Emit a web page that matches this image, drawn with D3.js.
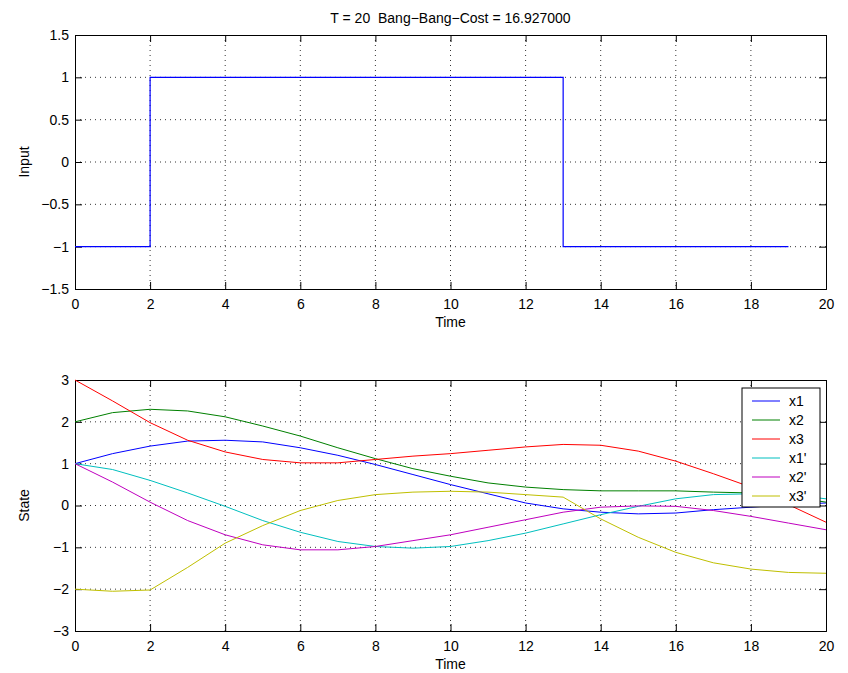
<!DOCTYPE html>
<html>
<head>
<meta charset="utf-8">
<script src="https://cdn.jsdelivr.net/npm/d3@7"></script>
<style>
  body { margin: 0; background: #fff; }
  svg { font-family: "Liberation Sans", Arial, sans-serif; }
  .grid line { stroke: #000; stroke-dasharray: 1,4; stroke-width: 0.8; }
</style>
</head>
<body>
<div id="chart"></div>
<script>
// input signal (bang-bang), step points
var inputTimes = [0, 2, 13, 19];
var inputValues = [-1, 1, -1, -1];

// state trajectories sampled at t = 0..20
var times = d3.range(0, 21);
var x1  = [1, 1.24, 1.42, 1.54, 1.56, 1.52, 1.38, 1.2, 0.98, 0.74, 0.5, 0.28, 0.06, -0.08, -0.16, -0.2, -0.18, -0.1, -0.04, 0.02, 0.06];
var x2  = [2, 2.22, 2.3, 2.26, 2.12, 1.9, 1.66, 1.38, 1.12, 0.88, 0.7, 0.54, 0.44, 0.38, 0.35, 0.35, 0.35, 0.32, 0.3, 0.22, 0.08];
var x3  = [3, 2.5, 1.98, 1.56, 1.28, 1.1, 1.02, 1.02, 1.1, 1.18, 1.24, 1.32, 1.4, 1.46, 1.44, 1.3, 1.06, 0.76, 0.44, 0.02, -0.4];
var x1p = [1, 0.86, 0.6, 0.3, -0.02, -0.36, -0.64, -0.86, -0.98, -1.02, -0.98, -0.84, -0.66, -0.44, -0.22, -0.02, 0.16, 0.26, 0.28, 0.26, 0.16];
var x2p = [1, 0.56, 0.08, -0.36, -0.7, -0.94, -1.06, -1.06, -0.98, -0.84, -0.7, -0.52, -0.34, -0.16, -0.04, -0.01, -0.02, -0.12, -0.26, -0.42, -0.58];
var x3p = [-2, -2.05, -2.02, -1.48, -0.9, -0.48, -0.12, 0.12, 0.26, 0.32, 0.34, 0.32, 0.26, 0.2, -0.32, -0.76, -1.12, -1.37, -1.52, -1.6, -1.62];

var seriesNames = ["x1", "x2", "x3", "x1'", "x2'", "x3'"];
var seriesData = [x1, x2, x3, x1p, x2p, x3p];
var seriesColors = ["#0000ff", "#008000", "#ff0000", "#00bfbf", "#bf00bf", "#bfbf00"];

var xTicks = d3.range(0, 21, 2);
var inputTicks = [-1.5, -1, -0.5, 0, 0.5, 1, 1.5];
var stateTicks = [-3, -2, -1, 0, 1, 2, 3];

var W = 848, H = 673;
var svg = d3.select("#chart").append("svg")
    .attr("width", W).attr("height", H);

var left = 75, right = 826;

function makeAxes(top, bottom, yDomain, yTicks, ylabel) {
    var x = d3.scaleLinear().domain([0, 20]).range([left, right]);
    var y = d3.scaleLinear().domain(yDomain).range([bottom, top]);
    var g = svg.append("g");

    // dotted grid
    var grid = g.append("g").attr("class", "grid");
    grid.selectAll("line.v").data(xTicks.slice(1, -1)).enter().append("line")
        .attr("x1", d => x(d)).attr("x2", d => x(d))
        .attr("y1", top).attr("y2", bottom);
    grid.selectAll("line.h").data(yTicks.slice(1, -1)).enter().append("line")
        .attr("y1", d => y(d)).attr("y2", d => y(d))
        .attr("x1", left).attr("x2", right);

    // box with inward ticks on all four sides
    var tl = 7;
    g.append("g").attr("transform", "translate(0," + bottom + ")")
        .call(d3.axisBottom(x).tickValues(xTicks).tickSize(-tl).tickPadding(10).tickFormat(d3.format("d")));
    g.append("g").attr("transform", "translate(0," + top + ")")
        .call(d3.axisTop(x).tickValues(xTicks).tickSize(-tl).tickFormat(""));
    g.append("g").attr("transform", "translate(" + left + ",0)")
        .call(d3.axisLeft(y).tickValues(yTicks).tickSize(-tl).tickPadding(6).tickFormat(d => String(d).replace("-", "\u2212")));
    g.append("g").attr("transform", "translate(" + right + ",0)")
        .call(d3.axisRight(y).tickValues(yTicks).tickSize(-tl).tickFormat(""));
    g.selectAll(".domain").attr("stroke", "#000").attr("stroke-width", 1);
    g.selectAll(".tick line").attr("stroke", "#000");
    g.selectAll(".tick text").attr("font-size", 14).attr("fill", "#000")
        .attr("font-family", "Liberation Sans, Arial, sans-serif");

    g.append("text").attr("x", (left + right) / 2).attr("y", bottom + 38)
        .attr("text-anchor", "middle").attr("font-size", 14).text("Time");
    g.append("text")
        .attr("transform", "translate(29," + (top + bottom) / 2 + ") rotate(-90)")
        .attr("text-anchor", "middle").attr("font-size", 14).text(ylabel);

    return { x: x, y: y, g: g };
}

// top: input
var a1 = makeAxes(35, 289, [-1.5, 1.5], inputTicks, "Input");
svg.append("text").attr("x", (left + right) / 2).attr("y", 23)
    .attr("text-anchor", "middle").attr("font-size", 14)
    .style("white-space", "pre")
    .text("T = 20  Bang\u2212Bang\u2212Cost = 16.927000");

var inputPts = inputTimes.map((t, i) => [t, inputValues[i]]);
svg.append("path")
    .datum(inputPts)
    .attr("fill", "none").attr("stroke", "#0000ff").attr("stroke-width", 1.2)
    .attr("d", d3.line().x(d => a1.x(d[0])).y(d => a1.y(d[1])).curve(d3.curveStepAfter));

// bottom: states
var a2 = makeAxes(380, 631, [-3, 3], stateTicks, "State");
var line2 = d3.line().x((d, i) => a2.x(times[i])).y(d => a2.y(d));
seriesData.forEach(function(s, k) {
    svg.append("path").datum(s)
        .attr("fill", "none").attr("stroke", seriesColors[k]).attr("stroke-width", 1)
        .attr("d", line2);
});

// legend
var lg = svg.append("g").attr("transform", "translate(742,388)");
lg.append("rect").attr("width", 78).attr("height", 119)
    .attr("fill", "#fff").attr("stroke", "#000");
seriesNames.forEach(function(n, k) {
    var yy = 13 + k * 19;
    lg.append("line").attr("x1", 10).attr("x2", 38).attr("y1", yy).attr("y2", yy)
        .attr("stroke", seriesColors[k]).attr("stroke-width", 1);
    lg.append("text").attr("x", 47).attr("y", yy + 5).attr("font-size", 14).text(n);
});
</script>
</body>
</html>
